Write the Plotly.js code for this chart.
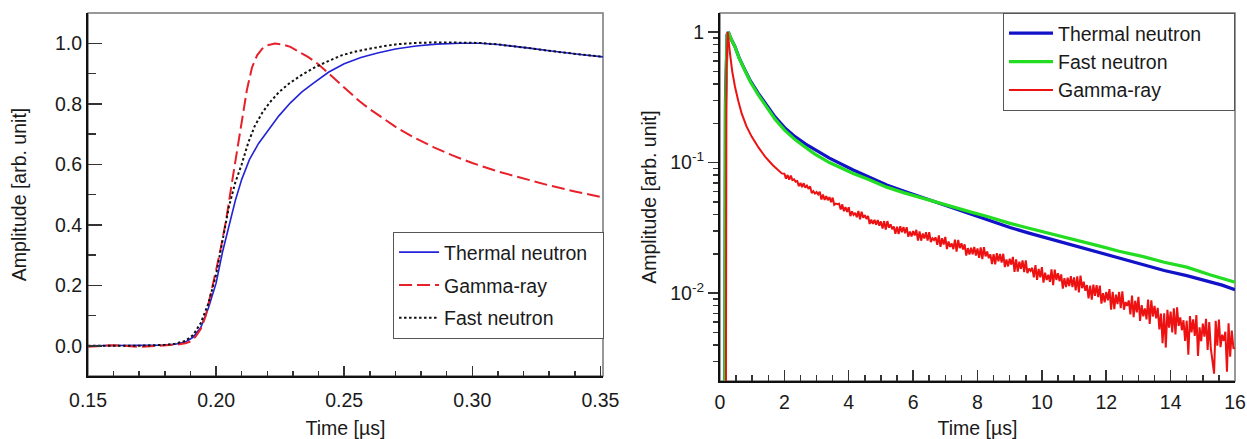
<!DOCTYPE html>
<html>
<head>
<meta charset="utf-8">
<script src="https://cdn.plot.ly/plotly-3.0.1.min.js"></script>
<style>html,body{margin:0;padding:0;background:#fff;}#chart{width:1247px;height:439px;}</style>
</head>
<body>
<div id="chart"></div>
<script>
// ---------- Left panel: pulse rise (time in µs, normalized amplitude) ----------
const thermalRiseT = [0.150,0.160,0.170,0.180,0.184,0.188,0.191,0.194,0.197,0.200,0.2025,0.205,0.2075,0.210,0.213,0.2165,0.220,0.2245,0.229,0.2335,0.238,0.244,0.250,0.2565,0.263,0.270,0.278,0.286,0.295,0.303,0.310,0.317,0.323,0.330,0.336,0.343,0.351];
const thermalRiseV = [0,0,0,0.002,0.005,0.012,0.028,0.06,0.125,0.207,0.31,0.4,0.48,0.55,0.615,0.668,0.71,0.76,0.803,0.839,0.868,0.905,0.932,0.953,0.968,0.981,0.991,0.997,1.0,1.0,0.996,0.99,0.983,0.975,0.968,0.962,0.955];

const gammaRiseT = [0.150,0.160,0.170,0.180,0.185,0.188,0.190,0.192,0.194,0.196,0.198,0.200,0.202,0.204,0.206,0.208,0.210,0.212,0.214,0.216,0.218,0.220,0.223,0.226,0.229,0.232,0.236,0.240,0.244,0.248,0.252,0.256,0.260,0.265,0.271,0.278,0.285,0.292,0.300,0.310,0.320,0.330,0.340,0.351];
const gammaRiseV = [-0.003,0.002,-0.004,0.001,0.004,0.008,0.014,0.03,0.055,0.1,0.17,0.25,0.33,0.42,0.53,0.64,0.75,0.845,0.92,0.96,0.982,0.993,0.999,0.996,0.988,0.974,0.954,0.93,0.9,0.87,0.838,0.808,0.782,0.752,0.718,0.685,0.656,0.63,0.604,0.576,0.552,0.53,0.51,0.49];

const fastRiseT = [0.150,0.160,0.170,0.180,0.184,0.188,0.191,0.194,0.197,0.200,0.2025,0.205,0.2075,0.210,0.2125,0.215,0.218,0.221,0.2245,0.2285,0.233,0.2385,0.244,0.249,0.2545,0.2595,0.265,0.271,0.278,0.286,0.295,0.303,0.310,0.317,0.323,0.330,0.336,0.343,0.351];
const fastRiseV = [0,0,0,0.003,0.007,0.016,0.035,0.075,0.14,0.235,0.345,0.46,0.54,0.6,0.67,0.725,0.77,0.805,0.838,0.867,0.893,0.92,0.942,0.96,0.973,0.982,0.99,0.997,1.001,1.003,1.003,1.001,0.996,0.99,0.983,0.975,0.968,0.962,0.955];

// ---------- Right panel: full pulse decay (log scale) ----------
const thermalDecayT = [0,0.13,0.17,0.22,0.26,0.33,0.466,0.6,0.777,0.95,1.19,1.45,1.71,2.0,2.33,2.65,2.95,3.4,4.14,4.6,5.18,5.7,6.21,6.7,7.25,7.8,8.28,9.01,9.6,10.3,11.08,11.8,12.4,13.15,13.8,14.5,15.22,15.6,16];
const thermalDecayV = [1e-5,1e-5,0.3,0.95,1.0,0.9,0.772,0.63,0.511,0.42,0.339,0.273,0.224,0.186,0.158,0.139,0.125,0.108,0.0877,0.0785,0.0673,0.0605,0.0547,0.0497,0.0446,0.0405,0.0368,0.0318,0.0288,0.0258,0.0228,0.0203,0.0184,0.0165,0.0149,0.0136,0.0122,0.0115,0.0106];

const fastDecayT = thermalDecayT;
const fastDecayV = [1e-5,1e-5,0.25,0.93,1.0,0.9,0.77,0.625,0.505,0.412,0.33,0.264,0.215,0.178,0.150,0.131,0.116,0.100,0.0825,0.0745,0.0648,0.0588,0.0540,0.0495,0.0452,0.0417,0.0388,0.0342,0.0314,0.0285,0.0255,0.0229,0.0209,0.0190,0.0172,0.0158,0.0138,0.0130,0.0121];

// gamma-ray decay: smooth early part, then the noisy tail as
// high samples on the 0.1 µs grid ...
const gammaDecayT = [0,0.17,0.2,0.24,0.31,0.38,0.466,0.57,0.673,0.82,0.984,1.2,1.4,1.65,1.92,
 2.0,2.1,2.2,2.3,2.4,2.5,2.6,2.7,2.8,2.9,
 3.0,3.1,3.2,3.3,3.4,3.5,3.6,3.7,3.8,3.9,
 4.0,4.1,4.2,4.3,4.4,4.5,4.6,4.7,4.8,4.9,
 5.0,5.1,5.2,5.3,5.4,5.5,5.6,5.7,5.8,5.9,
 6.0,6.1,6.2,6.3,6.4,6.5,6.6,6.7,6.8,6.9,
 7.0,7.1,7.2,7.3,7.4,7.5,7.6,7.7,7.8,7.9,
 8.0,8.1,8.2,8.3,8.4,8.5,8.6,8.7,8.8,8.9,
 9.0,9.1,9.2,9.3,9.4,9.5,9.6,9.7,9.8,9.9,
 10.0,10.1,10.2,10.3,10.4,10.5,10.6,10.7,10.8,10.9,
 11.0,11.1,11.2,11.3,11.4,11.5,11.6,11.7,11.8,11.9,
 12.0,12.1,12.2,12.3,12.4,12.5,12.6,12.7,12.8,12.9,
 13.0,13.1,13.2,13.3,13.4,13.5,13.6,13.7,13.8,13.9,
 14.0,14.1,14.2,14.3,14.4,14.5,14.6,14.7,14.8,14.9,
 15.0,15.1,15.2,15.3,15.4,15.5,15.6,15.7,15.8,15.9,16.0];
const gammaDecayV = [1e-5,1e-5,0.5,1.0,0.687,0.5,0.381,0.295,0.238,0.19,0.158,0.13,0.111,0.095,0.0826,
 0.0822,0.0803,0.0796,0.0745,0.0721,0.0698,0.0694,0.0665,0.0657,0.0603,
 0.0594,0.0598,0.0569,0.0553,0.0543,0.0538,0.0485,0.0483,0.0478,0.0456,
 0.0454,0.0422,0.0411,0.0425,0.0420,0.0396,0.0389,0.0366,0.0364,0.0363,
 0.0354,0.0356,0.0356,0.0336,0.0324,0.0322,0.0325,0.0321,0.0320,0.0296,
 0.0298,0.0305,0.0296,0.0286,0.0292,0.0293,0.0263,0.0267,0.0276,0.0263,
 0.0269,0.0248,0.0240,0.0257,0.0255,0.0241,0.0236,0.0221,0.0222,0.0226,
 0.0220,0.0224,0.0225,0.0208,0.0198,0.0199,0.0202,0.0199,0.0200,0.0181,
 0.0183,0.0189,0.0181,0.0174,0.0178,0.0178,0.0154,0.0156,0.0164,0.0153,
 0.0158,0.0143,0.0138,0.0152,0.0151,0.0142,0.0139,0.0130,0.0131,0.0135,
 0.0132,0.0134,0.0136,0.0122,0.0115,0.0114,0.0116,0.0115,0.0114,0.0100,
 0.01020,0.01072,0.01021,0.00972,0.01019,0.01029,0.00853,0.00877,0.00955,0.00873,
 0.00934,0.00808,0.00763,0.00890,0.00880,0.00797,0.00769,0.00695,0.00701,0.00743,
 0.00720,0.00763,0.00778,0.00651,0.00619,0.00614,0.00666,0.00629,0.00677,0.00546,
 0.00584,0.00634,0.00599,0.00302,0.00614,0.00627,0.00480,0.00505,0.00587,0.00516,0.00376];

// ... and low samples in between (t + 0.05 µs)
const gammaDecayMidT = [
 2.05,2.15,2.25,2.35,2.45,2.55,2.65,2.75,2.85,2.95,
 3.05,3.15,3.25,3.35,3.45,3.55,3.65,3.75,3.85,3.95,
 4.05,4.15,4.25,4.35,4.45,4.55,4.65,4.75,4.85,4.95,
 5.05,5.15,5.25,5.35,5.45,5.55,5.65,5.75,5.85,5.95,
 6.05,6.15,6.25,6.35,6.45,6.55,6.65,6.75,6.85,6.95,
 7.05,7.15,7.25,7.35,7.45,7.55,7.65,7.75,7.85,7.95,
 8.05,8.15,8.25,8.35,8.45,8.55,8.65,8.75,8.85,8.95,
 9.05,9.15,9.25,9.35,9.45,9.55,9.65,9.75,9.85,9.95,
 10.05,10.15,10.25,10.35,10.45,10.55,10.65,10.75,10.85,10.95,
 11.05,11.15,11.25,11.35,11.45,11.55,11.65,11.75,11.85,11.95,
 12.05,12.15,12.25,12.35,12.45,12.55,12.65,12.75,12.85,12.95,
 13.05,13.15,13.25,13.35,13.45,13.55,13.65,13.75,13.85,13.95,
 14.05,14.15,14.25,14.35,14.45,14.55,14.65,14.75,14.85,14.95,
 15.05,15.15,15.25,15.35,15.45,15.55,15.65,15.75,15.85,15.95];
const gammaDecayMidV = [
 0.0753,0.0738,0.0733,0.0713,0.0660,0.0649,0.0642,0.0628,0.0583,0.0579,
 0.0570,0.0521,0.0517,0.0515,0.0497,0.0474,0.0479,0.0437,0.0424,0.0418,
 0.0389,0.0397,0.0381,0.0368,0.0377,0.0370,0.0338,0.0339,0.0334,0.0328,
 0.0312,0.0307,0.0317,0.0308,0.0285,0.0283,0.0292,0.0287,0.0270,0.0272,
 0.0276,0.0252,0.0252,0.0262,0.0252,0.0246,0.0255,0.0234,0.0226,0.0235,
 0.0217,0.0226,0.0217,0.0208,0.0221,0.0216,0.0194,0.0197,0.0198,0.0194,
 0.0186,0.0182,0.0191,0.0185,0.0167,0.0166,0.0175,0.0171,0.0158,0.0160,
 0.0165,0.0145,0.0146,0.0153,0.0145,0.0142,0.0148,0.0132,0.0126,0.0132,
 0.0120,0.0126,0.0122,0.0115,0.0126,0.0123,0.0108,0.0111,0.0113,0.0111,
 0.0105,0.0101,0.0109,0.0104,0.0091,0.0089,0.0095,0.0093,0.0083,0.0085,
 0.00880,0.00746,0.00753,0.00822,0.00767,0.00745,0.00797,0.00687,0.00653,0.00710,
 0.00611,0.00663,0.00629,0.00580,0.00661,0.00639,0.00526,0.00413,0.00382,0.00544,
 0.00499,0.00481,0.00561,0.00519,0.00429,0.00337,0.00500,0.00469,0.00330,0.00427,
 0.00463,0.00367,0.00374,0.00241,0.00395,0.00385,0.00430,0.00250,0.00325,0.00379];

// ---------- Labels / ticks ----------
const seriesNames = {thermal: 'Thermal neutron', gamma: 'Gamma-ray', fast: 'Fast neutron'};
const xTitle = 'Time [µs]';
const yTitle = 'Amplitude [arb. unit]';
const logTickVals = [0.01, 0.1, 1];
const logTickText = ['10<sup>-2</sup>', '10<sup>-1</sup>', '1'];
const logMinorVals = [0.003,0.004,0.005,0.006,0.007,0.008,0.009,0.02,0.03,0.04,0.05,0.06,0.07,0.08,0.09,0.2,0.3,0.4,0.5,0.6,0.7,0.8,0.9];

// merge the two gamma sample sets in time order
const gammaAll = gammaDecayT.map((t, i) => [t, gammaDecayV[i]])
  .concat(gammaDecayMidT.map((t, i) => [t, gammaDecayMidV[i]]))
  .sort((a, b) => a[0] - b[0]);
const gammaAllT = gammaAll.map(p => p[0]);
const gammaAllV = gammaAll.map(p => p[1]);

const FONT = 'Liberation Sans, Arial, Helvetica, sans-serif';
const FS = 19.5;
const TXT = '#1a1a1a';
const PAD1 = '\u00a0\u00a0';                 // legend box right padding (left panel)
const PAD2 = '\u00a0\u00a0\u00a0\u00a0\u00a0'; // legend box right padding (right panel)

const traces = [
  {x: thermalRiseT, y: thermalRiseV, name: seriesNames.thermal + PAD1, type: 'scatter', mode: 'lines',
   line: {color: '#2222d8', width: 1.6}, xaxis: 'x', yaxis: 'y', legend: 'legend', legendgroup: 'a1'},
  {x: gammaRiseT, y: gammaRiseV, name: seriesNames.gamma, type: 'scatter', mode: 'lines',
   line: {color: '#e8202a', width: 2, dash: '13px,5px'}, xaxis: 'x', yaxis: 'y', legend: 'legend', legendgroup: 'a2'},
  {x: fastRiseT, y: fastRiseV, name: seriesNames.fast, type: 'scatter', mode: 'lines',
   line: {color: '#111111', width: 2, dash: '2.5px,2.5px'}, xaxis: 'x', yaxis: 'y', legend: 'legend', legendgroup: 'a3'},

  {x: thermalDecayT, y: thermalDecayV, name: seriesNames.thermal + PAD2, type: 'scatter', mode: 'lines',
   line: {color: '#1212c8', width: 3.2}, xaxis: 'x2', yaxis: 'y2', legend: 'legend2', legendgroup: 'b1'},
  {x: fastDecayT, y: fastDecayV, name: seriesNames.fast, type: 'scatter', mode: 'lines',
   line: {color: '#22dd22', width: 3.2}, xaxis: 'x2', yaxis: 'y2', legend: 'legend2', legendgroup: 'b2'},
  {x: gammaAllT, y: gammaAllV, name: seriesNames.gamma, type: 'scatter', mode: 'lines',
   line: {color: '#ee1111', width: 2, simplify: false}, xaxis: 'x2', yaxis: 'y2', legend: 'legend2', legendgroup: 'b3'}
];

const axisCommon = {
  showgrid: false, zeroline: false, showline: true, linecolor: '#111', linewidth: 2,
  tickcolor: '#333', tickwidth: 1.5, automargin: false,
  tickfont: {family: FONT, size: FS, color: TXT}
};

const layout = {
  width: 1247, height: 439,
  margin: {l: 88, r: 12, t: 13, b: 58},
  paper_bgcolor: '#fff', plot_bgcolor: '#fff',
  font: {family: FONT, size: FS, color: TXT},
  showlegend: true,
  xaxis: Object.assign({}, axisCommon, {
    domain: [0, 0.449], anchor: 'y', range: [0.15, 0.351],
    tick0: 0.15, dtick: 0.05, tickformat: '.2f', ticks: 'inside', ticklen: 10, ticklabelstandoff: 6,
    minor: {ticks: 'inside', ticklen: 5, dtick: 0.01, tick0: 0.15, tickcolor: '#333', tickwidth: 1.5},
    title: {text: xTitle, font: {family: FONT, size: FS, color: TXT}, standoff: 16}
  }),
  yaxis: Object.assign({}, axisCommon, {
    domain: [0.0136, 1], anchor: 'x', range: [-0.1, 1.1],
    tick0: 0, dtick: 0.2, tickformat: '.1f', ticks: 'inside', ticklen: 14,
    minor: {ticks: 'inside', ticklen: 8, dtick: 0.1, tick0: 0, tickcolor: '#333', tickwidth: 1.5},
    title: {text: yTitle, font: {family: FONT, size: FS, color: TXT}, standoff: 23}
  }),
  xaxis2: Object.assign({}, axisCommon, {
    domain: [0.551, 1], anchor: 'y2', range: [0, 16],
    tick0: 0, dtick: 2, ticks: 'inside', ticklen: 11, ticklabelstandoff: 3,
    minor: {ticks: 'inside', ticklen: 6, dtick: 0.5, tick0: 0, tickcolor: '#333', tickwidth: 1.5},
    title: {text: xTitle, font: {family: FONT, size: FS, color: TXT}, standoff: 14}
  }),
  yaxis2: Object.assign({}, axisCommon, {
    domain: [0, 1], anchor: 'x2', type: 'log', range: [-2.674, 0.146],
    tickmode: 'array', tickvals: logTickVals, ticktext: logTickText, ticks: 'outside', ticklen: 10,
    minor: {ticks: 'outside', ticklen: 5, tickmode: 'array', tickvals: logMinorVals, tickcolor: '#333', tickwidth: 1.5},
    title: {text: yTitle, font: {family: FONT, size: FS, color: TXT}, standoff: 8}
  }),
  legend: {
    xref: 'paper', yref: 'paper', x: 0.4499, xanchor: 'right', y: 0.405, yanchor: 'top',
    bgcolor: '#fff', bordercolor: '#555', borderwidth: 1, tracegroupgap: 4.5, itemwidth: 40,
    font: {family: FONT, size: FS, color: TXT}, traceorder: 'grouped'
  },
  legend2: {
    xref: 'paper', yref: 'paper', x: 1, xanchor: 'right', y: 1, yanchor: 'top',
    bgcolor: '#fff', bordercolor: '#555', borderwidth: 1, tracegroupgap: 0, itemwidth: 44,
    font: {family: FONT, size: FS, color: TXT}, traceorder: 'grouped'
  },
  shapes: [
    {type: 'rect', xref: 'x domain', yref: 'y domain', x0: 0, x1: 1, y0: 0, y1: 1,
     line: {color: '#777', width: 1.5}, layer: 'below'},
    {type: 'rect', xref: 'x2 domain', yref: 'y2 domain', x0: 0, x1: 1, y0: 0, y1: 1,
     line: {color: '#777', width: 1.5}, layer: 'below'}
  ]
};

Plotly.newPlot('chart', traces, layout, {displayModeBar: false, staticPlot: true});
</script>
</body>
</html>
